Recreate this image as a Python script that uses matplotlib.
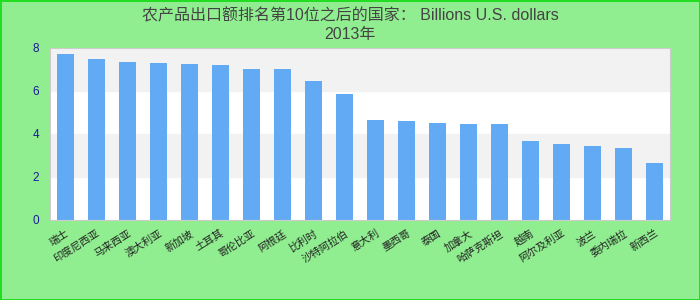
import matplotlib.pyplot as plt

plt.rcParams['font.family'] = ['Liberation Sans', 'Noto Sans CJK SC', 'DejaVu Sans']

# data
countries = ['瑞士', '印度尼西亚', '马来西亚', '澳大利亚', '新加坡', '土耳其', '哥伦比亚',
             '阿根廷', '比利时', '沙特阿拉伯', '意大利', '墨西哥', '泰国', '加拿大',
             '哈萨克斯坦', '越南', '阿尔及利亚', '波兰', '委内瑞拉', '新西兰']
values = [7.7, 7.5, 7.35, 7.3, 7.25, 7.2, 7.0, 7.0, 6.45, 5.85,
          4.65, 4.6, 4.5, 4.45, 4.45, 3.65, 3.55, 3.45, 3.35, 2.65]
yticks = [0, 2, 4, 6, 8]
title = '农产品出口额排名第10位之后的国家： Billions U.S. dollars\n2013年'

fig = plt.figure(figsize=(7, 3), dpi=100)
fig.patch.set_facecolor('#90ee90')
fig.patch.set_edgecolor('#22dd22')
fig.patch.set_linewidth(2)

ax = fig.add_axes([0.0714, 0.267, 0.886, 0.573])
ax.set_facecolor('white')
# alternating horizontal bands
for i in range(len(yticks) - 1):
    if i % 2 == 1:
        ax.axhspan(yticks[i], yticks[i + 1], color='#f2f2f2', zorder=0)

x = range(len(countries))
ax.bar(x, values, width=0.55, color='#63aaf5', zorder=2)

ax.set_xlim(-0.5, len(countries) - 0.5)
ax.set_ylim(0, 8)
ax.set_yticks(yticks)
ax.set_xticks(list(x))
ax.set_xticklabels(countries, rotation=32, ha='right', rotation_mode='anchor',
                   fontsize=7.5, color='#222222')
ax.tick_params(axis='y', length=0, labelsize=8.5, labelcolor='#1a1a99', pad=8)
ax.tick_params(axis='x', length=0, pad=6)
for s in ax.spines.values():
    s.set_color('#cccccc')

fig.suptitle(title, fontsize=11.5, color='#444444', y=0.975, linespacing=1.3)

fig.savefig('out.png', dpi=100, facecolor=fig.get_facecolor(), edgecolor=fig.get_edgecolor())
